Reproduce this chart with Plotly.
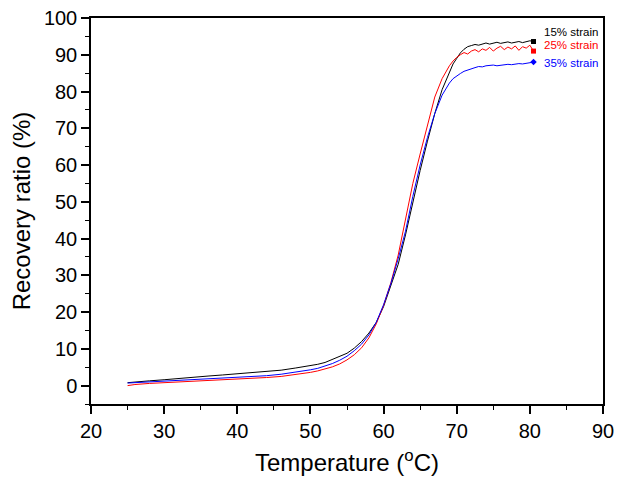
import plotly.graph_objects as go

temperature = [25, 26, 28, 30, 32, 34, 36, 38, 40, 42, 44, 46, 48, 50,
               51, 52, 53, 54, 55, 56, 57, 58, 59, 60, 61, 62, 63, 64, 65, 66, 67, 68, 69,
               69.5, 70, 70.5, 71, 71.5, 72, 72.5, 73, 73.5, 74, 74.5, 75, 75.5, 76, 76.5,
               77, 77.5, 78, 78.5, 79, 79.5, 80, 80.5]

strain_15 = [0.8, 1.0, 1.3, 1.6, 2.0, 2.3, 2.6, 2.9, 3.2, 3.5, 3.9, 4.2, 4.8, 5.4,
             5.8, 6.3, 7.2, 8.0, 8.8, 10.2, 12.0, 14.3, 17.2, 21.5, 27.0, 33.0, 41.0, 50.0,
             58.5, 66.5, 74.0, 80.5, 85.5,
             87.5, 89.0, 90.5, 91.5, 92.2, 92.5, 92.8, 92.6, 93.0, 93.2, 92.9, 93.2, 93.4,
             93.1, 93.3, 93.5, 93.2, 93.4, 93.6, 93.3, 93.5, 93.8, 93.6]

strain_25 = [0.0, 0.3, 0.6, 0.8, 1.0, 1.2, 1.3, 1.5, 1.7, 1.9, 2.2, 2.5, 3.0, 3.6,
             4.0, 4.5, 5.1, 5.9, 7.0, 8.4, 10.3, 13.0, 16.8, 21.8, 28.0, 35.5, 45.0, 55.0,
             63.0, 71.0, 78.5, 83.5, 87.0,
             88.3, 89.3, 90.0, 90.6, 90.2, 91.0, 91.4, 90.8, 91.6, 91.2, 92.0, 91.0, 91.8,
             92.3, 91.4, 92.1, 91.6, 92.4, 91.2, 92.2, 91.8, 92.6, 91.0]

strain_35 = [0.7, 0.8, 1.0, 1.2, 1.4, 1.6, 1.7, 1.9, 2.1, 2.4, 2.7, 3.1, 3.6, 4.3,
             4.7, 5.3, 6.0, 6.9, 8.0, 9.5, 11.3, 13.8, 17.2, 22.0, 27.8, 34.5, 42.0, 51.5,
             60.0, 67.5, 74.0, 79.0, 82.3,
             83.5, 84.3, 84.9, 85.5, 85.9, 86.3, 86.5, 86.8, 86.7, 87.0, 87.1, 87.2, 87.0,
             87.2, 87.3, 87.4, 87.3, 87.5, 87.6, 87.5, 87.7, 87.8, 88.0]

series_names = ["15% strain", "25% strain", "35% strain"]
series_colors = ["black", "red", "blue"]
end_symbols = ["square", "square", "diamond"]
label_y = [96.2, 92.7, 87.7]
label_x = 81.6

FONT = "Arial, Liberation Sans, sans-serif"

fig = go.Figure()
for name, vals, color, sym in zip(series_names, [strain_15, strain_25, strain_35],
                                  series_colors, end_symbols):
    fig.add_trace(go.Scatter(x=temperature, y=vals, mode="lines",
                             line=dict(color=color, width=1), name=name,
                             showlegend=False))
    fig.add_trace(go.Scatter(x=[temperature[-1]], y=[vals[-1]], mode="markers",
                             marker=dict(symbol=sym, size=5, color=color),
                             showlegend=False))

for name, color, yv in zip(series_names, series_colors, label_y):
    fig.add_annotation(x=label_x, y=yv, text=name, showarrow=False,
                       xanchor="left", yanchor="middle",
                       font=dict(family=FONT, size=11.5, color=color))

axis_common = dict(
    showline=True, linecolor="black", linewidth=1.5, mirror=True,
    ticks="outside", ticklen=8, tickwidth=1.5, tickcolor="black",
    showgrid=False, zeroline=False, automargin=False,
    ticklabeloverflow="allow",
    tickfont=dict(family=FONT, size=20, color="black"),
    minor=dict(ticks="outside", ticklen=4, tickwidth=1.2, tickcolor="black",
               dtick=5, showgrid=False),
)

fig.update_xaxes(range=[20, 90], dtick=10, tick0=20,
                 title=dict(text="Temperature (<sup>o</sup>C)",
                            font=dict(family=FONT, size=24, color="black"),
                            standoff=16),
                 **axis_common)
fig.update_yaxes(range=[-5, 100], dtick=10, tick0=0,
                 title=dict(text="Recovery ratio (%)",
                            font=dict(family=FONT, size=24, color="black"),
                            standoff=15),
                 **axis_common)

# The page body has an 8px margin; size the figure so that the plot lands
# where the reference's does inside the 629x484 window.
fig.update_layout(width=613, height=468,
                  margin=dict(l=83, r=18, t=10, b=72),
                  plot_bgcolor="white", paper_bgcolor="white")

fig.write_html("out.html")
